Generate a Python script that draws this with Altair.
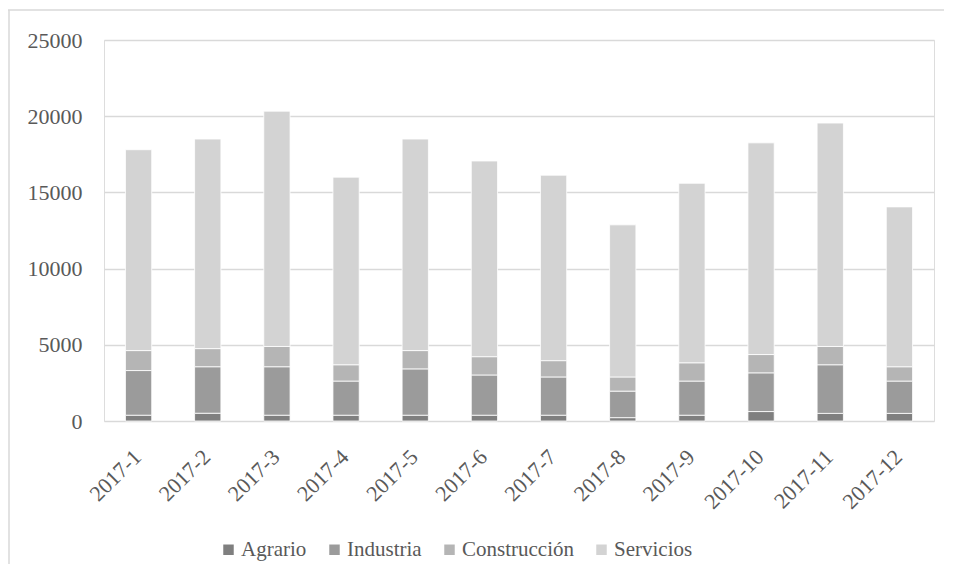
import altair as alt
import pandas as pd

months = ["2017-1", "2017-2", "2017-3", "2017-4", "2017-5", "2017-6",
          "2017-7", "2017-8", "2017-9", "2017-10", "2017-11", "2017-12"]
agrario = [380, 510, 380, 380, 380, 380, 380, 220, 380, 620, 500, 500]
industria = [2930, 3050, 3180, 2240, 3040, 2640, 2510, 1740, 2240, 2540, 3190, 2120]
construccion = [1310, 1190, 1330, 1070, 1200, 1200, 1070, 930, 1200, 1200, 1200, 940]
servicios = [13180, 13750, 15440, 12310, 13880, 12840, 12170, 9980, 11780, 13890, 14660, 10490]

sectors = ["Agrario", "Industria", "Construcción", "Servicios"]
colors = ["#7f7f7f", "#9b9b9b", "#b5b5b5", "#d3d3d3"]
series = [agrario, industria, construccion, servicios]

rows = []
for si, (name, vals) in enumerate(zip(sectors, series)):
    for m, v in zip(months, vals):
        rows.append({"mes": m, "sector": name, "valor": v, "orden": si})
df = pd.DataFrame(rows)

FONT = "Liberation Serif, Times New Roman, DejaVu Serif, serif"
TXT = "#595959"

bars = alt.Chart(df).mark_bar(stroke="white", strokeWidth=0.8).encode(
    x=alt.X("mes:N", sort=months, title=None,
            scale=alt.Scale(paddingInner=0.62, paddingOuter=0.31),
            axis=alt.Axis(labelAngle=-45, labelFontSize=22, labelFont=FONT,
                          labelColor=TXT, ticks=False, tickSize=0, domain=False,
                          labelPadding=25, labelOffset=-8, grid=False)),
    y=alt.Y("valor:Q", stack="zero", title=None,
            scale=alt.Scale(domain=[0, 25000], nice=False),
            axis=alt.Axis(values=[0, 5000, 10000, 15000, 20000, 25000], format="d",
                          labelFontSize=22, labelFont=FONT, labelColor=TXT,
                          ticks=False, tickSize=0, domain=False, labelPadding=22,
                          grid=True, gridColor="#d9d9d9", gridWidth=1.3)),
    color=alt.Color("sector:N", sort=sectors,
                    scale=alt.Scale(domain=sectors, range=colors),
                    legend=alt.Legend(title=None, orient="none", legendX=114, legendY=499,
                                      direction="horizontal", symbolType="square",
                                      symbolSize=110, symbolStrokeWidth=0,
                                      labelFontSize=21, labelFont=FONT, labelColor=TXT,
                                      columnPadding=17, labelOffset=2, padding=0)),
    order=alt.Order("orden:Q", sort="ascending"),
)

border_top = alt.Chart(alt.Data(values=[{"k": 1}])).mark_rule(
    color="#d9d9d9", strokeWidth=1.5).encode(
    x=alt.value(-96), x2=alt.value(840), y=alt.value(-30))
border_left = alt.Chart(alt.Data(values=[{"k": 1}])).mark_rule(
    color="#d9d9d9", strokeWidth=1.5).encode(
    x=alt.value(-95), y=alt.value(-30), y2=alt.value(524))

chart = alt.layer(border_top, border_left, bars).properties(
    width=830, height=381,
    autosize=alt.AutoSizeParams(type="none"),
    padding={"left": 96, "top": 32, "right": 10, "bottom": 143},
).configure_view(stroke=None).configure(background="white", font=FONT)

chart.save("out.html", embed_options={"renderer": "svg", "actions": False})
